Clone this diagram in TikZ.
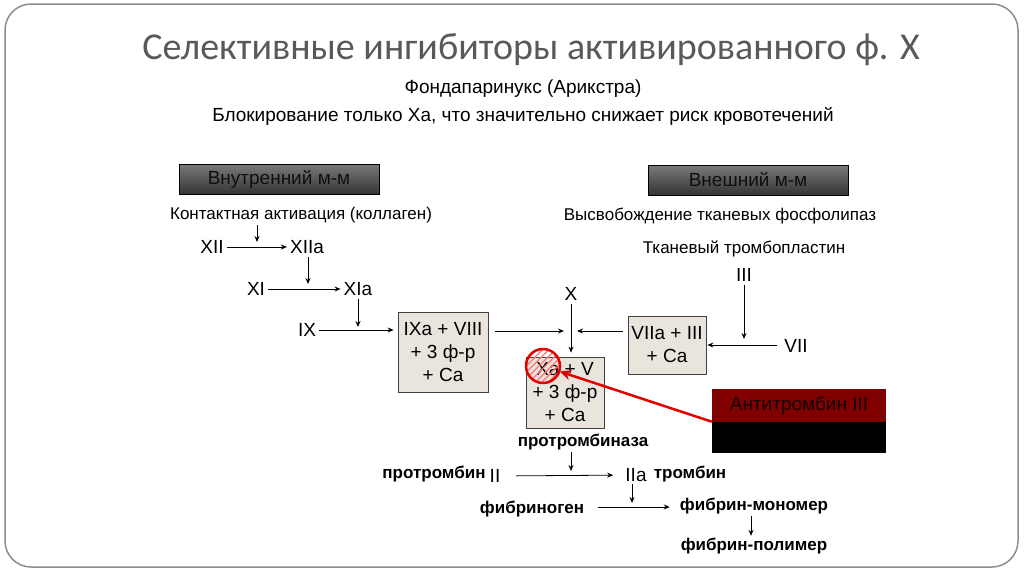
\documentclass[tikz,border=0pt]{standalone}
\usepackage{fontspec}
\setmainfont{Liberation Sans}
\newfontfamily\titlefont{Carlito}
\usetikzlibrary{arrows.meta,patterns.meta}
\definecolor{boxfill}{RGB}{233,229,221}
\definecolor{titlegray}{RGB}{89,89,89}
\definecolor{atred}{RGB}{128,0,0}
\definecolor{attext}{RGB}{20,0,0}
\definecolor{framegray}{RGB}{140,140,140}
\definecolor{hdrtop}{RGB}{122,122,122}
\definecolor{hdrbot}{RGB}{52,52,52}
\definecolor{hdrtext}{RGB}{15,15,15}
\begin{document}
\begin{tikzpicture}[x=1pt,y=-1pt,
  txt/.style={font=\fontsize{17}{20}\selectfont, inner sep=2pt},
  big/.style={font=\fontsize{19}{22}\selectfont, inner sep=3pt},
  bld/.style={font=\bfseries\fontsize{17}{20}\selectfont, inner sep=2pt},
  hdr/.style={draw=black, line width=0.8pt, top color=hdrtop, bottom color=hdrbot, minimum width=200, minimum height=30, font=\fontsize{19}{22}\selectfont, text=hdrtext},
  cbox/.style={draw=black!75, line width=0.8pt, fill=boxfill, align=center, font=\fontsize{19}{23}\selectfont, inner sep=0pt},
  arr/.style={-{Stealth[length=6pt,width=5pt]}, line width=0.8pt},
  redarr/.style={-{Stealth[length=11pt,width=10pt]}, line width=2.5pt, red!90!black}
]
\useasboundingbox (0,0) rectangle (1024,574);
\draw[framegray, line width=1.5pt, rounded corners=26] (5,4) rectangle (1018,567);

\node[font=\titlefont\fontsize{38}{44}\selectfont, text=titlegray] (title) at (531,50) {Селективные ингибиторы активированного ф. X};
\node[txt, font=\fontsize{19}{22}\selectfont] (fonda) at (523,89) {Фондапаринукс (Арикстра)};
\node[txt, font=\fontsize{19}{22}\selectfont] (block) at (523,116) {Блокирование только Xa, что значительно снижает риск кровотечений};

\node[hdr] (inner) at (279,179) {\color{hdrtext}Внутренний м-м};
\node[hdr] (outer) at (748,180) {\color{hdrtext}Внешний м-м};

\node[txt] (kont) at (301,215) {Контактная активация (коллаген)};
\node[txt] (vysv) at (720,216) {Высвобождение тканевых фосфолипаз};
\node[txt] (tkan) at (744,249) {Тканевый тромбопластин};

% intrinsic
\node[big] (XII) at (212,247) {XII};
\node[big] (XIIa) at (307,247) {XIIa};
\draw[arr] (XII) -- (XIIa);
\coordinate (j1) at (257,242);
\draw[arr] (kont.south -| j1) -- (j1);

\node[big] (XI) at (256,289) {XI};
\node[big] (XIa) at (358,289) {XIa};
\draw[arr] (XI) -- (XIa);
\coordinate (j2) at (308,284);
\draw[arr] (XIIa.south -| j2) -- (j2);

\node[big] (IX) at (307,330) {IX};
\node[cbox, minimum width=90, minimum height=80] (IXa) at (443,352) {IXa + VIII\\+ 3 ф-р\\+ Ca};
\draw[arr, shorten >=4pt] (IX) -- (IX -| IXa.west);
\coordinate (j3) at (358,327);
\draw[arr] (XIa.south -| j3) -- (j3);

% X junction
\node[big] (X) at (571,294) {X};
\coordinate (jXl) at (564,331);
\coordinate (jXr) at (577,331);
\node[cbox, minimum width=78, minimum height=71] (Xa) at (565,392.5) {Xa + V\\+ 3 ф-р\\+ Ca};
\draw[arr, shorten <=7pt] (IXa.east |- jXl) -- (jXl);
\draw[arr, shorten >=4pt] (X) -- (Xa.north -| X);

% extrinsic
\node[cbox, minimum width=78, minimum height=58] (VIIa) at (667,345) {VIIa + III\\+ Ca};
\draw[arr, shorten <=5pt] (VIIa.west |- jXr) -- (jXr);
\node[big] (III) at (744,275) {III};
\node[big] (VII) at (796,346) {VII};
\coordinate (j7) at (744,339);
\draw[arr] (III) -- (j7);
\coordinate (j8) at (777,345);
\draw[arr, shorten >=1pt] (j8) -- (j8 -| VIIa.east);

% antithrombin
\node[fill=atred, minimum width=174, minimum height=33, inner sep=0pt] (atop) at (799,405) {};
\node[fill=black, minimum width=174, minimum height=31, inner sep=0pt, anchor=north] (abot) at (atop.south) {};
\node[font=\fontsize{19}{22}\selectfont, inner sep=0pt, text=black] (attxt) at (atop.center) {\color{attext}Антитромбин III};
\node[circle, draw=red!90!black, line width=2.5pt, minimum size=34, inner sep=0pt,
      pattern={Lines[angle=45,distance=4.5pt,line width=1.2pt]}, pattern color=red!55] (circ) at (543,366) {};
\draw[redarr] (atop.south west) -- (circ);

% prothrombinase
\node[bld] (ptz) at (583,442) {протромбиназа};
\node[bld] (ptb) at (434,474) {протромбин};
\node[big, inner sep=2pt] (II) at (495,476) {II};
\node[big, inner sep=2pt] (IIa) at (636,475) {IIa};
\node[bld] (trb) at (690,474) {тромбин};
\draw[arr, shorten <=14pt, shorten >=10pt] (II) -- (IIa);
\coordinate (j9) at (571,471);
\draw[arr] (ptz.south -| j9) -- (j9);

\node[bld] (fbg) at (532,509) {фибриноген};
\node[bld] (fmon) at (754,506) {фибрин-мономер};
\draw[arr, shorten <=12pt, shorten >=8pt] (fbg.east |- 0,507) -- (fmon.west |- 0,507);
\coordinate (j10) at (632,503);
\draw[arr] (IIa.south -| j10) -- (j10);
\node[bld] (fpol) at (754,546) {фибрин-полимер};
\draw[arr] (fmon.south -| fpol) ++(-3,0) -- ([xshift=-3pt]fpol.north);
\end{tikzpicture}
\end{document}
